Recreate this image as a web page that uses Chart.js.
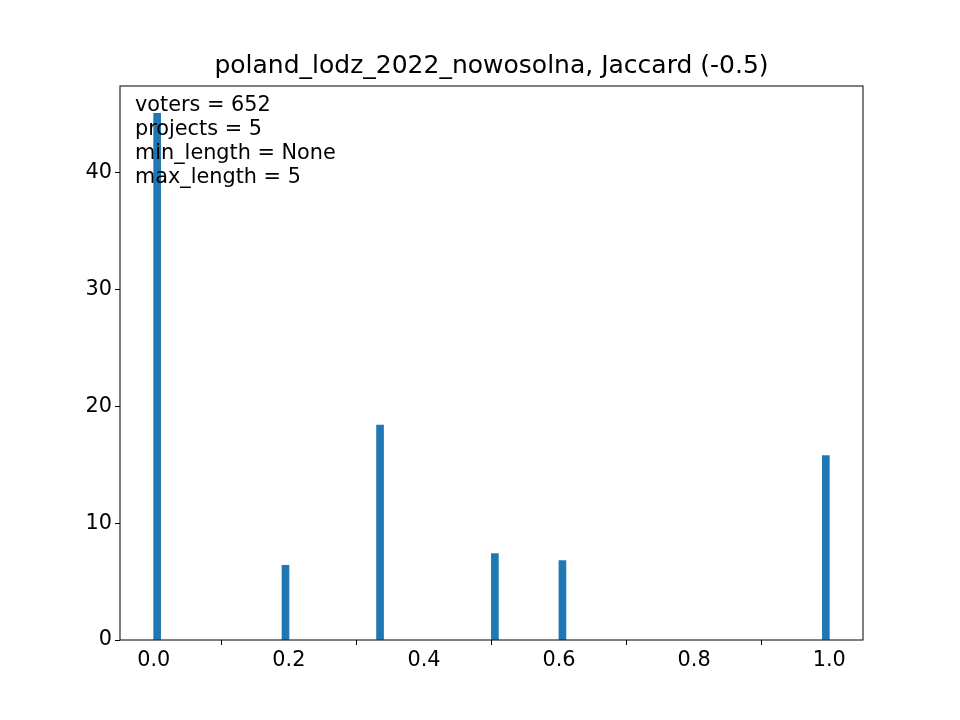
<!DOCTYPE html>
<html>
<head>
<meta charset="utf-8">
<script src="https://cdn.jsdelivr.net/npm/chart.js@4/dist/chart.umd.min.js"></script>
<style>
  body { margin: 0; background: #fff; }
  #wrap { width: 960px; height: 720px; }
</style>
</head>
<body>
<div id="wrap"><canvas id="c"></canvas></div>
<script>
const binCenters = [0.005, 0.195, 0.335, 0.505, 0.605, 0.995];
const counts = [45.1, 6.4, 18.4, 7.4, 6.8, 15.8];
const xTicks = [0, 0.2, 0.4, 0.6, 0.8, 1.0];
const yTicks = [0, 10, 20, 30, 40];
const infoLines = ['voters = 652', 'projects = 5', 'min_length = None', 'max_length = 5'];
const titleText = 'poland_lodz_2022_nowosolna, Jaccard (-0.5)';

const font = 'DejaVu Sans';

const decor = {
  id: 'decor',
  afterDraw(chart) {
    const { ctx, chartArea: a } = chart;
    ctx.save();
    ctx.strokeStyle = '#000';
    ctx.lineWidth = 1;
    ctx.strokeRect(a.left, a.top, a.right - a.left, a.bottom - a.top);
    ctx.fillStyle = '#000';
    ctx.font = '25px "' + font + '"';
    ctx.textAlign = 'center';
    ctx.textBaseline = 'middle';
    ctx.fillText(titleText, (a.left + a.right) / 2, 66);
    ctx.font = '20.8px "' + font + '"';
    ctx.textAlign = 'left';
    infoLines.forEach((t, i) => ctx.fillText(t, a.left + 15, a.top + 20 + i * 24));
    ctx.restore();
  }
};

new Chart(document.getElementById('c'), {
  type: 'bar',
  data: {
    datasets: [{
      data: binCenters.map((x, i) => ({ x: x, y: counts[i] })),
      backgroundColor: '#1f77b4',
      barThickness: 7
    }]
  },
  options: {
    responsive: true,
    maintainAspectRatio: false,
    animation: false,
    layout: { padding: { left: 0, right: 97, top: 86, bottom: 0 } },
    plugins: { legend: { display: false }, tooltip: { enabled: false } },
    scales: {
      x: {
        type: 'linear', min: -0.05, max: 1.05, offset: false,
        afterBuildTicks: s => { s.ticks = xTicks.map(v => ({ value: v })); },
        afterFit: s => { s.height = 80; },
        grid: { drawOnChartArea: false, tickLength: 5, color: '#000' },
        border: { display: false },
        ticks: { color: '#000', font: { family: font, size: 20.8 }, maxRotation: 0,
          autoSkip: false, callback: v => v.toFixed(1) }
      },
      y: {
        min: 0, max: 47.45,
        afterBuildTicks: s => { s.ticks = yTicks.map(v => ({ value: v })); },
        afterFit: s => { s.width = 120; },
        grid: { drawOnChartArea: false, tickLength: 5, color: '#000' },
        border: { display: false },
        ticks: { color: '#000', font: { family: font, size: 20.8 }, autoSkip: false }
      }
    }
  },
  plugins: [decor]
});
</script>
</body>
</html>
